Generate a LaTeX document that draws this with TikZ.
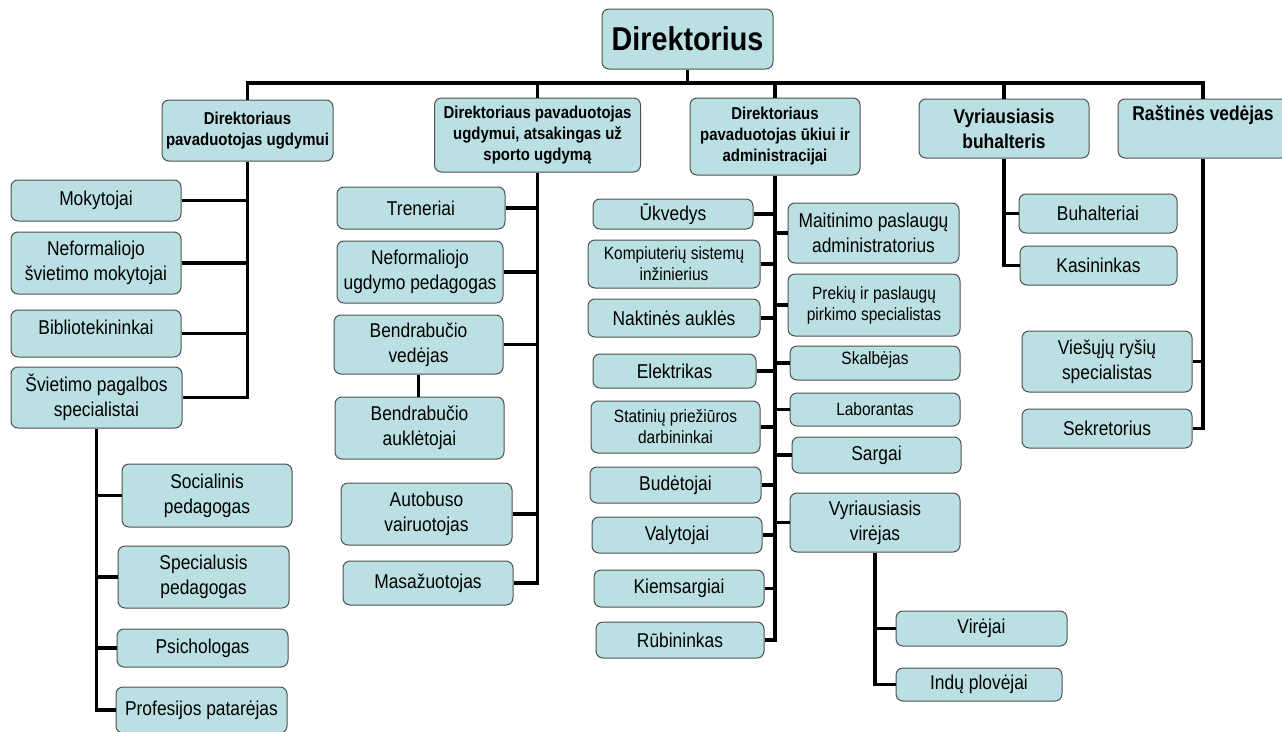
\documentclass[tikz,border=0pt]{standalone}
\usepackage{fontspec}
\setmainfont{Liberation Sans}[FakeStretch=0.87]

\definecolor{boxfill}{HTML}{BBE0E3}
\definecolor{boxline}{HTML}{505050}

\tikzset{
  box/.style={draw=boxline, fill=boxfill, line width=1pt, rounded corners=7pt,
              align=center, inner sep=2pt, font=\fontsize{20}{25}\selectfont},
  wh/.style 2 args={minimum width=#1pt, minimum height=#2pt},
  smalltext/.style={font=\fontsize{17.8}{21}\selectfont},
  headtext/.style={font=\bfseries\fontsize{17.2}{21}\selectfont},
  bighead/.style={font=\bfseries\fontsize{20}{25}\selectfont},
  lift/.style={text depth=#1pt},
  conn/.style={line width=3.5pt}
}

\begin{document}
\begin{tikzpicture}[x=1pt,y=-1pt]
            \useasboundingbox (0,0) rectangle (1282,731);

            \node[box,wh={171}{60},font=\bfseries\fontsize{33}{36}\selectfont] (dir) at (687.5, 39.0) {Direktorius};
            \coordinate (bus) at (687.5, 83.0);

            \node[box,wh={171}{61},headtext] (d1) at ( 247.5, 130.5) {Direktoriaus\\pavaduotojas ugdymui};
            \node[box,wh={206}{74},headtext] (d2) at ( 537.5, 135.0) {Direktoriaus pavaduotojas\\ugdymui, atsakingas už\\sporto ugdymą};
            \node[box,wh={170}{77},headtext] (d3) at ( 775.0, 136.5) {Direktoriaus\\pavaduotojas ūkiui ir\\administracijai};
            \node[box,wh={170}{59},bighead]  (d4) at (1004.0, 128.5) {Vyriausiasis\\buhalteris};
            \node[box,wh={170}{59},bighead,lift=30] (d5) at (1203.0, 128.5) {Raštinės vedėjas};

            \node[box,wh={170}{41}] (moky)  at ( 96.0, 200.5) {Mokytojai};
            \node[box,wh={170}{62}] (nsm)   at ( 96.0, 263.0) {Neformaliojo\\švietimo mokytojai};
            \node[box,wh={170}{47},lift=13] (bibl) at ( 96.0, 333.5) {Bibliotekininkai};
            \node[box,wh={171}{61}] (svps)  at ( 96.5, 397.5) {Švietimo pagalbos\\specialistai};
            \node[box,wh={170}{63}] (soc)   at (207.0, 495.5) {Socialinis\\pedagogas};
            \node[box,wh={171}{62}] (spec)  at (203.5, 577.0) {Specialusis\\pedagogas};
            \node[box,wh={171}{38}] (psich) at (202.5, 648.0) {Psichologas};
            \node[box,wh={171}{46}] (prof)  at (201.5, 710.0) {Profesijos patarėjas};

            \node[box,wh={168}{42}] (tren) at (421.0, 208.0) {Treneriai};
            \node[box,wh={166}{62}] (nup)  at (420.0, 272.0) {Neformaliojo\\ugdymo pedagogas};
            \node[box,wh={169}{59}] (bved) at (418.5, 344.5) {Bendrabučio\\vedėjas};
            \node[box,wh={169}{62}] (bauk) at (419.5, 428.0) {Bendrabučio\\auklėtojai};
            \node[box,wh={171}{62}] (auto) at (426.5, 514.0) {Autobuso\\vairuotojas};
            \node[box,wh={170}{44}] (masa) at (428.0, 583.0) {Masažuotojas};

            \node[box,wh={160}{30}] (ukv)  at (673.0, 214.0) {Ūkvedys};
            \node[box,wh={172}{48},smalltext] (komp) at (674.0, 264.0) {Kompiuterių sistemų\\inžinierius};
            \node[box,wh={172}{38}] (nakt) at (674.0, 318.0) {Naktinės auklės};
            \node[box,wh={163}{34}] (elek) at (674.5, 371.0) {Elektrikas};
            \node[box,wh={169}{52},smalltext] (stat) at (675.5, 427.0) {Statinių priežiūros\\darbininkai};
            \node[box,wh={171}{36}] (bude) at (675.5, 485.0) {Budėtojai};
            \node[box,wh={170}{36}] (valy) at (677.0, 535.0) {Valytojai};
            \node[box,wh={170}{37}] (kiem) at (679.0, 588.5) {Kiemsargiai};
            \node[box,wh={168}{36}] (rubi) at (680.0, 640.0) {Rūbininkas};

            \node[box,wh={171}{60}] (mait) at (873.5, 233.0) {Maitinimo paslaugų\\administratorius};
            \node[box,wh={172}{62},smalltext] (prek) at (874.0, 305.0) {Prekių ir paslaugų\\pirkimo specialistas};
            \node[box,wh={170}{34},smalltext,lift=10] (skal) at (875.0, 363.0) {Skalbėjas};
            \node[box,wh={170}{33},smalltext] (labo) at (875.0, 409.5) {Laborantas};
            \node[box,wh={169}{36}] (sarg) at (876.5, 455.0) {Sargai};
            \node[box,wh={170}{59}] (vvir) at (875.0, 522.5) {Vyriausiasis\\virėjas};
            \node[box,wh={171}{35}] (vire) at (981.5, 628.5) {Virėjai};
            \node[box,wh={166}{33}] (indu) at (979.0, 684.5) {Indų plovėjai};

            \node[box,wh={158}{39}] (buha) at (1098.0, 213.5) {Buhalteriai};
            \node[box,wh={157}{39}] (kasi) at (1098.5, 265.5) {Kasininkas};
            \node[box,wh={170}{61}] (vrs)  at (1107.0, 361.5) {Viešųjų ryšių\\specialistas};
            \node[box,wh={170}{39}] (sekr) at (1107.0, 428.5) {Sekretorius};

            \draw[conn] (dir.south) -- (bus);
            \draw[conn] (d1.north) |- (bus) -| (d5.north);
            \foreach \n in {d2,d3,d4}
              \draw[conn] (\n.north) -- (\n.north |- bus);

            \draw[conn] (d1.south) |- (svps.east);
            \foreach \n in {moky,nsm,bibl}
              \draw[conn] (\n.east) -- (\n.east -| d1.south);
            \draw[conn] (svps.south) |- (prof.west);
            \foreach \n in {soc,spec,psich}
              \draw[conn] (\n.west) -- (\n.west -| svps.south);

            \draw[conn] (d2.south) |- (masa.east);
            \foreach \n in {tren,nup,bved,auto}
              \draw[conn] (\n.east) -- (\n.east -| d2.south);
            \draw[conn] (bved.south) -- (bved.south |- bauk.north);

            \draw[conn] (d3.south) |- (rubi.east);
            \foreach \n in {ukv,komp,nakt,elek,stat,bude,valy,kiem}
              \draw[conn] (\n.east) -- (\n.east -| d3.south);
            \foreach \n in {mait,prek,skal,labo,sarg,vvir}
              \draw[conn] (\n.west) -- (\n.west -| d3.south);
            \draw[conn] (vvir.south) |- (indu.west);
            \draw[conn] (vire.west) -- (vire.west -| vvir.south);

            \draw[conn] (d4.south) |- (kasi.west);
            \draw[conn] (buha.west) -- (buha.west -| d4.south);
            \draw[conn] (d5.south) |- (sekr.east);
            \draw[conn] (vrs.east) -- (vrs.east -| d5.south);
\end{tikzpicture}
\end{document}
